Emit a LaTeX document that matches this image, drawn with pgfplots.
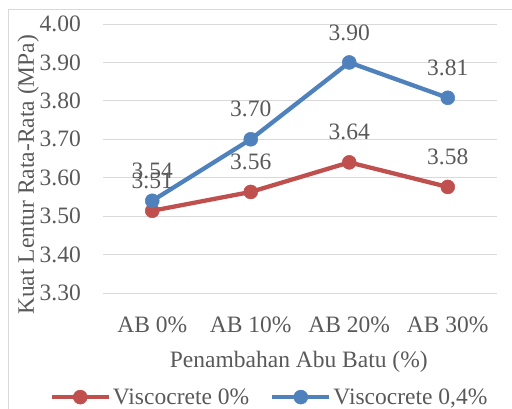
\documentclass[border=0pt]{standalone}
\usepackage{pgfplots}
\pgfplotsset{compat=1.18}
\usepackage{fontspec}
\setmainfont{Liberation Serif}
\definecolor{serA}{HTML}{C0504D}
\definecolor{serB}{HTML}{4F81BD}
\definecolor{txt}{HTML}{595959}
\definecolor{gridc}{HTML}{D9D9D9}
\begin{document}
\begin{tikzpicture}[font=\fontsize{23.5bp}{28bp}\selectfont]
\useasboundingbox (0,0) rectangle (512bp,-409bp);
% chart frame (cut off at right and bottom)
\draw[gridc, line width=1bp] (8bp,-430bp) -- (8bp,-9bp) -- (530bp,-9bp);
\begin{axis}[
    at={(103bp,-293bp)}, anchor=south west,
    scale only axis, width=394bp, height=269bp,
    xmin=-0.5, xmax=3.5, ymin=3.3, ymax=4.0,
    xtick={0,1,2,3},
    xticklabels={AB 0\%, AB 10\%, AB 20\%, AB 30\%},
    ytick={3.3,3.4,3.5,3.6,3.7,3.8,3.9,4.0},
    yticklabels={3.30,3.40,3.50,3.60,3.70,3.80,3.90,4.00},
    axis line style={draw=none},
    major tick length=0pt,
    ymajorgrids, grid style={gridc, line width=1bp},
    tick label style={text=txt, inner sep=0pt},
    xticklabel style={anchor=center, yshift=-32bp},
    yticklabel style={anchor=east, xshift=-22bp},
    xlabel={Penambahan Abu Batu (\%)},
    ylabel={Kuat Lentur Rata-Rata (MPa)},
    xlabel style={at={(axis description cs:0.497,-0.2565)}, anchor=center, text=txt, inner sep=0pt},
    ylabel style={at={(axis description cs:-0.190,0.439)}, anchor=center, text=txt, inner sep=0pt},
    nodes near coords,
    point meta=explicit symbolic,
    every node near coord/.append style={anchor=center, yshift=30bp, text=txt, inner sep=0pt},
    legend columns=2,
    legend style={draw=none, fill=none, at={(0.42,-0.387)}, anchor=center,
        text=txt, nodes={inner sep=0pt},
        /tikz/every odd column/.append style={column sep=2bp},
        /tikz/every even column/.append style={column sep=21bp}},
    legend image code/.code={\draw[mark repeat=2,mark phase=2,#1]
        plot coordinates {(0bp,0bp) (28.5bp,0bp) (57bp,0bp)};},
]
\addplot[color=serA, line width=4.3bp, mark=*, mark size=7bp,
    mark options={line width=0.5bp}]
    coordinates {(0,3.514)[3.51] (1,3.563)[3.56] (2,3.640)[3.64] (3,3.576)[3.58]};
\addlegendentry{Viscocrete 0\%}
\addplot[color=serB, line width=4.3bp, mark=*, mark size=7bp,
    mark options={line width=0.5bp}]
    coordinates {(0,3.540)[3.54] (1,3.700)[3.70] (2,3.900)[3.90] (3,3.808)[3.81]};
\addlegendentry{Viscocrete 0,4\%}
\end{axis}
\end{tikzpicture}
\end{document}
